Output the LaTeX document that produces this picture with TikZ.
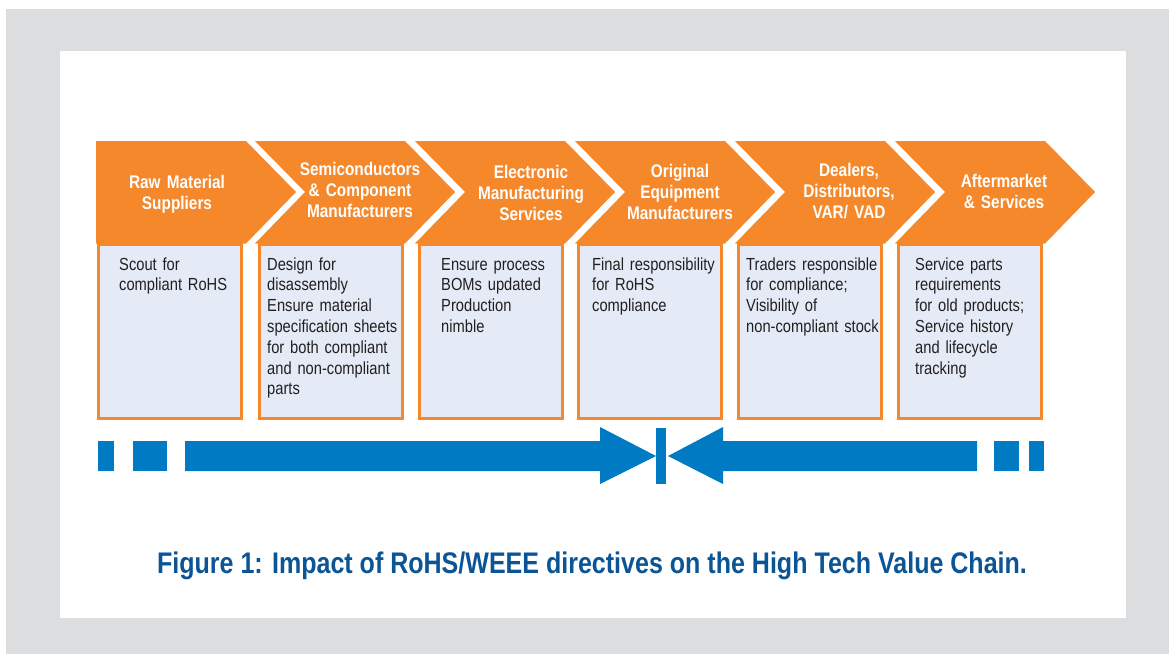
\documentclass[tikz,border=0pt]{standalone}
\usepackage{fontspec}
\setmainfont[FakeStretch=0.84]{Liberation Sans}
\definecolor{framegrey}{RGB}{220,221,223}
\definecolor{chev}{RGB}{245,136,42}
\definecolor{boxfill}{RGB}{228,235,246}
\definecolor{arrowblue}{RGB}{0,122,194}
\definecolor{capblue}{RGB}{11,85,150}
\definecolor{bodytext}{RGB}{35,31,32}
\begin{document}
\begin{tikzpicture}[x=1pt,y=-1pt,
  chevron/.style={fill=chev},
  stagebox/.style={draw=chev, line width=3pt, fill=boxfill, minimum width=143pt, minimum height=174pt, inner sep=0pt},
  headtext/.style={text=white, font=\fontsize{18.3}{21.3}\selectfont\bfseries, align=center, text width=150pt, inner sep=0pt, anchor=base},
  bodytxt/.style={text=bodytext, font=\fontsize{17.5}{20.8}\selectfont, align=left, text width=145pt, inner sep=0pt, anchor=base west},
  flow/.style={fill=arrowblue}]
\useasboundingbox (0,0) rectangle (1169,654);
\fill[white] (0,0) rectangle (1169,654);
\fill[framegrey] (6,9) rectangle (1169,654);
\fill[white] (60,51) rectangle (1126,618);
% chevrons
\fill[chevron] (96,141) -- (246,141) -- (296,192) -- (246,243.5) -- (96,243.5) -- cycle;
\foreach \x in {255,415,575,735,895} {
  \fill[chevron] (\x,141) -- (\x+150,141) -- (\x+200,192) -- (\x+150,243.5) -- (\x,243.5) -- (\x+50,192) -- cycle;
}
% boxes
\node[stagebox] (box1) at (169.5,331.5) {};
\node[stagebox] (box2) at (330.5,331.5) {};
\node[stagebox] (box3) at (490.5,331.5) {};
\node[stagebox] (box4) at (650,331.5) {};
\node[stagebox] (box5) at (810,331.5) {};
\node[stagebox] (box6) at (969.5,331.5) {};
% header texts
\node[headtext] (h1) at (177,188) {Raw Material\\Suppliers};
\node[headtext] (h2) at (360,175) {Semiconductors\\\& Component\\Manufacturers};
\node[headtext] (h3) at (531,178) {Electronic\\Manufacturing\\Services};
\node[headtext] (h4) at (680,177) {Original\\Equipment\\Manufacturers};
\node[headtext] (h5) at (849,176) {Dealers,\\Distributors,\\VAR/ VAD};
\node[headtext] (h6) at (1004,187) {Aftermarket\\\& Services};
% body texts
\node[bodytxt] (t1) at (119,270) {Scout for\\compliant RoHS};
\node[bodytxt] (t2) at (267,270) {Design for\\disassembly\\Ensure material\\specification sheets\\for both compliant\\and non-compliant\\parts};
\node[bodytxt] (t3) at (441,270) {Ensure process\\BOMs updated\\Production\\nimble};
\node[bodytxt] (t4) at (592,270) {Final responsibility\\for RoHS\\compliance};
\node[bodytxt] (t5) at (746,270) {Traders responsible\\for compliance;\\Visibility of\\non-compliant stock};
\node[bodytxt] (t6) at (915,270) {Service parts\\requirements\\for old products;\\Service history\\and lifecycle\\tracking};
% flow arrows
\fill[flow] (98,441) rectangle (114,471);
\fill[flow] (133,441) rectangle (167,471);
\fill[flow] (185,441) -- (600,441) -- (600,427) -- (656,456) -- (600,484) -- (600,471) -- (185,471) -- cycle;
\fill[flow] (656,428) rectangle (666,484);
\fill[flow] (977,441) -- (723,441) -- (723,427) -- (668,456) -- (723,484) -- (723,471) -- (977,471) -- cycle;
\fill[flow] (994,441) rectangle (1019,471);
\fill[flow] (1029,441) rectangle (1044,471);
% caption
\node[font=\fontsize{29.8}{32}\selectfont\bfseries, text=capblue, anchor=base, inner sep=0pt] (cap) at (592,573) {Figure 1: Impact of RoHS/WEEE directives on the High Tech Value Chain.};
\end{tikzpicture}
\end{document}
